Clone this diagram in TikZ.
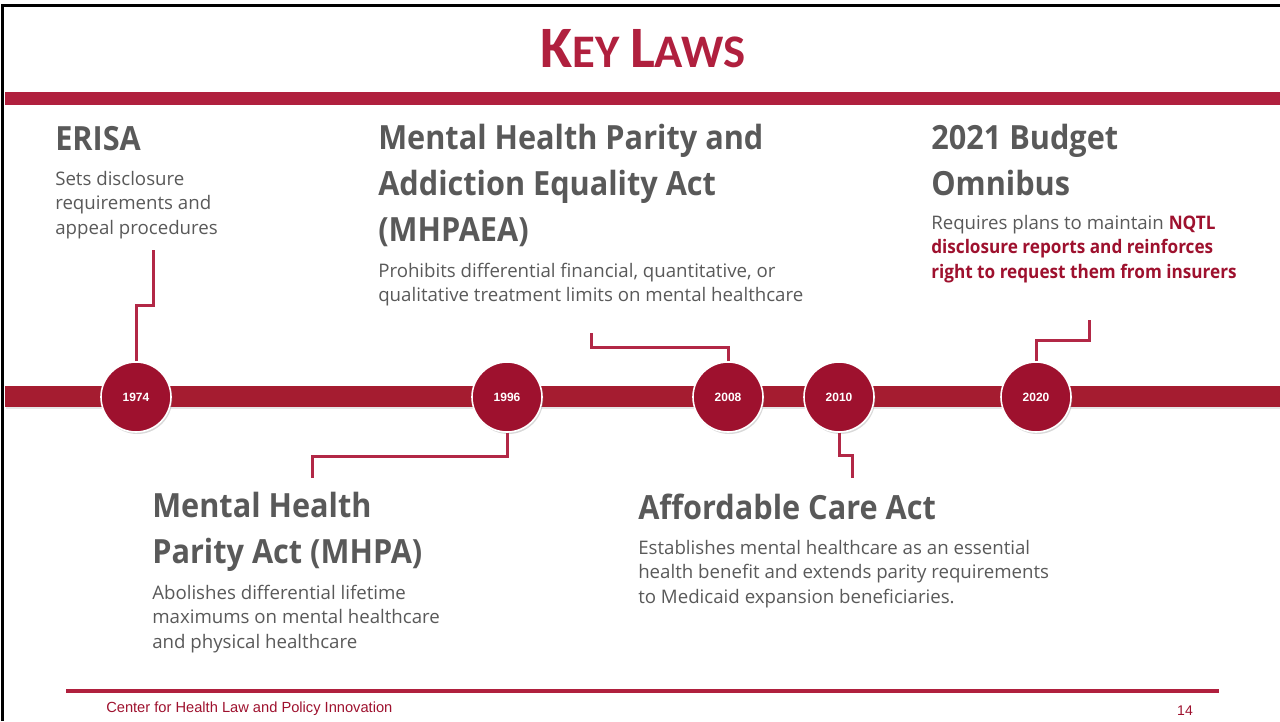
\documentclass[tikz,border=0pt]{standalone}
\usepackage{fontspec}
\setmainfont{Open Sans}
\newfontfamily\headfont[FakeStretch=0.92]{Open Sans}
\newfontfamily\titlefont{Carlito}
\newfontfamily\footfont{Liberation Sans}
\usetikzlibrary{shadows}

\definecolor{lawred}{RGB}{176,32,62}
\definecolor{barred}{RGB}{165,28,48}
\definecolor{dotred}{RGB}{158,17,46}
\definecolor{linkred}{RGB}{178,40,70}
\definecolor{textgray}{RGB}{89,89,89}

% lines of a text block, first baseline on the node's base
\newcommand\stack[1]{\begin{tabular}[t]{@{}l@{}}#1\end{tabular}}
\newcommand\hot[1]{\textcolor{dotred}{\headfont\bfseries #1}}

\tikzset{
  year/.style={circle, fill=dotred, draw=white, line width=1.2pt,
    minimum size=52.5pt, inner sep=0pt, text=white,
    font=\footfont\bfseries\fontsize{9}{10}\selectfont,
    drop shadow={opacity=0.3, shadow xshift=1pt, shadow yshift=-1.5pt}},
  link/.style={draw=linkred, line width=2.25pt},
  head/.style={anchor=base west, inner sep=0pt, text=textgray,
    font=\headfont\bfseries\fontsize{25}{34.5}\selectfont},
  blurb/.style={anchor=base west, inner sep=0pt, text=textgray,
    font=\fontsize{14}{18.4}\selectfont},
}

\begin{document}
\begin{tikzpicture}[x=0.75pt, y=-0.75pt]
  \useasboundingbox (0,0) rectangle (1280,721);

  % slide frame and title
  \draw[black, line width=2.25pt] (2,721) -- (2,5.5) -- (1280,5.5);
  \node[anchor=base, inner sep=0pt, text=lawred, font=\titlefont\bfseries] (title) at (643,67)
    {\fontsize{44}{44}\selectfont K\fontsize{35}{35}\selectfont EY
     \fontsize{44}{44}\selectfont L\fontsize{35}{35}\selectfont AWS};
  \fill[lawred] (5,92) rectangle (1280,105);

  % timeline bar
  \fill[barred, drop shadow={opacity=0.2, shadow xshift=0.5pt, shadow yshift=-1.5pt}]
    (5,386) rectangle (1280,407);

  % free ends of the connectors
  \coordinate (k1974) at (153,305); \coordinate (e1974) at (153,250);
  \coordinate (k1996) at (312,456); \coordinate (e1996) at (312,478);
  \coordinate (k2008) at (591,347); \coordinate (e2008) at (591,333);
  \coordinate (k2010) at (852,455); \coordinate (e2010) at (852,478);
  \coordinate (k2020) at (1089,340); \coordinate (e2020) at (1089,320);

  % year markers
  \foreach \yr/\x in {1974/136, 1996/507, 2008/728, 2010/839, 2020/1036}
    \node[year] (y\yr) at (\x,397) {\yr};

  \foreach \yr/\side in {1974/north, 1996/south, 2008/north, 2010/south, 2020/north}
    \draw[link] (y\yr.\side) |- (k\yr) -- (e\yr);

  % laws above the bar
  \node[head] (erisa) at (55,150) {ERISA};
  \node[blurb] (erisatxt) at (55,185)
    {\stack{Sets disclosure\\requirements and\\appeal procedures}};

  \node[head] (mhpaea) at (378,149)
    {\stack{Mental Health Parity and\\Addiction Equality Act\\(MHPAEA)}};
  \node[blurb] (mhpaeatxt) at (378,277)
    {\stack{Prohibits differential financial, quantitative, or\\
     qualitative treatment limits on mental healthcare}};

  \node[head] (omnibus) at (931,149) {\stack{2021 Budget\\Omnibus}};
  \node[blurb] (omnibustxt) at (931,229)
    {\stack{Requires plans to maintain \hot{NQTL}\\
     \hot{disclosure reports and reinforces}\\
     \hot{right to request them from insurers}}};

  % laws below the bar
  \node[head] (mhpa) at (152,517) {\stack{Mental Health\\Parity Act (MHPA)}};
  \node[blurb] (mhpatxt) at (152,599)
    {\stack{Abolishes differential lifetime\\maximums on mental healthcare\\
     and physical healthcare}};

  \node[head] (aca) at (638,519) {Affordable Care Act};
  \node[blurb] (acatxt) at (638,554)
    {\stack{Establishes mental healthcare as an essential\\
     health benefit and extends parity requirements\\
     to Medicaid expansion beneficiaries.}};

  % footer
  \draw[lawred, line width=3pt] (66,691) -- (1219,691);
  \node[anchor=base west, inner sep=0pt, text=dotred, font=\footfont\fontsize{11}{12}\selectfont]
    (footer) at (106,712) {Center for Health Law and Policy Innovation};
  \node[anchor=base, inner sep=0pt, text=dotred, font=\footfont\fontsize{10.5}{12}\selectfont]
    (page) at (1185,715) {14};
\end{tikzpicture}
\end{document}
